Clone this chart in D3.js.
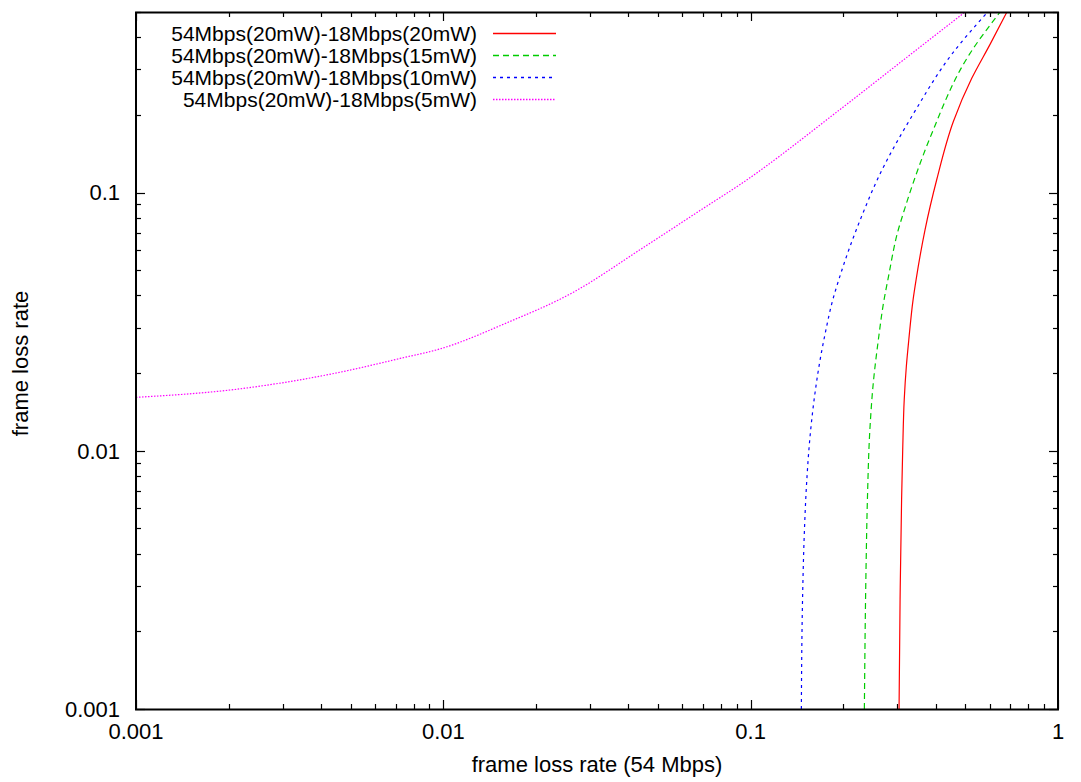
<!DOCTYPE html>
<html>
<head>
<meta charset="utf-8">
<script src="https://cdn.jsdelivr.net/npm/d3@7"></script>
<style>
body { margin: 0; background: #fff; }
text { font-family: "Liberation Sans", Arial, sans-serif; fill: #000; }
</style>
</head>
<body>
<svg id="chart" width="1081" height="782"></svg>
<script>
// series (x = frame loss rate 54Mbps, y = frame loss rate)
var seriesNames = ["54Mbps(20mW)-18Mbps(20mW)", "54Mbps(20mW)-18Mbps(15mW)",
                   "54Mbps(20mW)-18Mbps(10mW)", "54Mbps(20mW)-18Mbps(5mW)"];

var x20 = [0.3040, 0.3063, 0.3098, 0.3124, 0.3160, 0.3210, 0.3270, 0.3377, 0.3454, 0.3694, 0.4032, 0.4566, 0.524, 0.601, 0.682];
var y20 = [0.001, 0.00265, 0.00646, 0.0101, 0.0158, 0.0212, 0.0269, 0.0385, 0.046, 0.0719, 0.1123, 0.1884, 0.2767, 0.3746, 0.5];

var x15 = [0.2344, 0.2374, 0.2398, 0.2446, 0.2507, 0.2603, 0.2717, 0.2796, 0.3024, 0.3151, 0.3409, 0.3873, 0.5148, 0.648];
var y15 = [0.001, 0.00355, 0.00646, 0.0124, 0.0184, 0.0269, 0.0385, 0.046, 0.0719, 0.0844, 0.1123, 0.1678, 0.3426, 0.5];

var x10 = [0.1462, 0.1475, 0.1495, 0.1521, 0.1564, 0.1609, 0.1699, 0.1745, 0.1851, 0.1936, 0.2208, 0.2352, 0.2584, 0.342, 0.4509, 0.5902];
var y10 = [0.001, 0.00265, 0.00481, 0.00752, 0.0117, 0.0158, 0.0240, 0.0282, 0.0385, 0.046, 0.0719, 0.0867, 0.1123, 0.2061, 0.3426, 0.5];

var x5 = [0.001, 0.00212, 0.00448, 0.00738, 0.00976, 0.0161, 0.0265, 0.0437, 0.0719, 0.0924, 0.1955, 0.322, 0.4985];
var y5 = [0.0161, 0.0173, 0.0200, 0.0229, 0.0248, 0.0313, 0.0411, 0.0601, 0.0885, 0.1074, 0.2098, 0.3336, 0.5];

var xTickLabels = ["0.001", "0.01", "0.1", "1"];
var yTickLabels = ["0.001", "0.01", "0.1"];

var xTitle = "frame loss rate (54 Mbps)";
var yTitle = "frame loss rate";

// layout
var W = 1081, H = 782;
var PL = 136, PR = 1058, PT = 12, PB = 709;
var FONT = 22, LEGFONT = 21;

var lineColors = ["#ff0000", "#00cc00", "#0000ff", "#ff00ff"];
var lineDashes = [null, "6,4", "3,4", "1.5,1.5"];

var svg = d3.select("#chart");
svg.append("rect").attr("width", W).attr("height", H).attr("fill", "#fff");

var xs = d3.scaleLog().domain([0.001, 1]).range([PL, PR]);
var ys = d3.scaleLog().domain([0.001, 0.5]).range([PB, PT]);

// ticks: majors at decades, minors at 2..9, on all four sides, pointing inward
function logTicks(lo, hi){
    var major = [], minor = [];
    for (var e = -3; e <= 0; e++){
        var base = Math.pow(10, e);
        if (base >= lo - 1e-12 && base <= hi + 1e-12) major.push(base);
        for (var m = 2; m <= 9; m++){
            var v = m * base;
            if (v > lo && v <= hi + 1e-12 && e < 0) minor.push(v);
        }
    }
    return {major: major, minor: minor};
};

var xt = logTicks(0.001, 1);
var yt = logTicks(0.001, 0.5);
var MAJ = 9, MIN = 5;

var tickG = svg.append("g").attr("stroke", "#000").attr("stroke-width", 1.2);
[[xt.major, MAJ], [xt.minor, MIN]].forEach(function(p){
    p[0].forEach(function(v){
        var x = Math.round(xs(v)) + 0.5;
        tickG.append("line").attr("x1", x).attr("x2", x).attr("y1", PB).attr("y2", PB - p[1]);
        tickG.append("line").attr("x1", x).attr("x2", x).attr("y1", PT).attr("y2", PT + p[1]);
    });
});
[[yt.major, MAJ], [yt.minor, MIN]].forEach(function(p){
    p[0].forEach(function(v){
        var y = Math.round(ys(v)) + 0.5;
        tickG.append("line").attr("y1", y).attr("y2", y).attr("x1", PL).attr("x2", PL + p[1]);
        tickG.append("line").attr("y1", y).attr("y2", y).attr("x1", PR).attr("x2", PR - p[1]);
    });
});

// tick labels
svg.append("g").selectAll("text").data(xt.major).enter().append("text")
   .attr("x", function(d){return xs(d);})
   .attr("y", PB + 30)
   .attr("text-anchor", "middle")
   .attr("font-size", FONT)
   .text(function(d, i){return xTickLabels[i];});

svg.append("g").selectAll("text").data(yt.major).enter().append("text")
   .attr("x", PL - 16)
   .attr("y", function(d){return ys(d);})
   .attr("dy", "0.36em")
   .attr("text-anchor", "end")
   .attr("font-size", FONT)
   .text(function(d, i){return yTickLabels[i];});

// axis titles
svg.append("text")
   .attr("x", (PL + PR) / 2)
   .attr("y", 772)
   .attr("text-anchor", "middle")
   .attr("font-size", FONT)
   .text(xTitle);

svg.append("text")
   .attr("transform", "translate(28," + ((PT + PB) / 2 + 3) + ") rotate(-90)")
   .attr("text-anchor", "middle")
   .attr("font-size", FONT)
   .text(yTitle);

// curves (steep ones interpolated along y, the flat one along x)
svg.append("clipPath").attr("id", "plotclip")
   .append("rect").attr("x", PL).attr("y", PT).attr("width", PR - PL).attr("height", PB - PT);

var allSeries = [[x20, y20], [x15, y15], [x10, y10], [x5, y5]];
var curveTypes = [d3.curveMonotoneY, d3.curveMonotoneY, d3.curveMonotoneY, d3.curveMonotoneX];

var curveG = svg.append("g").attr("clip-path", "url(#plotclip)");
allSeries.forEach(function(s, i){
    var pts = d3.zip(s[0], s[1]);
    var lineGen = d3.line()
        .x(function(d){return xs(d[0]);})
        .y(function(d){return ys(d[1]);})
        .curve(curveTypes[i]);
    curveG.append("path")
          .attr("d", lineGen(pts))
          .attr("fill", "none")
          .attr("stroke", lineColors[i])
          .attr("stroke-width", 1.2)
          .attr("stroke-dasharray", lineDashes[i]);
});

// legend
var legG = svg.append("g");
seriesNames.forEach(function(name, i){
    var y = 33 + i * 22;
    legG.append("text")
        .attr("x", 477).attr("y", y).attr("dy", "0.36em")
        .attr("text-anchor", "end")
        .attr("font-size", LEGFONT)
        .text(name);
    legG.append("line")
        .attr("x1", 493).attr("x2", 556).attr("y1", y + 0.5).attr("y2", y + 0.5)
        .attr("stroke", lineColors[i])
        .attr("stroke-width", 1.4)
        .attr("stroke-dasharray", lineDashes[i]);
});

// plot border
svg.append("rect")
   .attr("x", PL).attr("y", PT + 0.5)
   .attr("width", PR - PL).attr("height", PB - PT)
   .attr("fill", "none")
   .attr("stroke", "#000")
   .attr("stroke-width", 2);
</script>
</body>
</html>
